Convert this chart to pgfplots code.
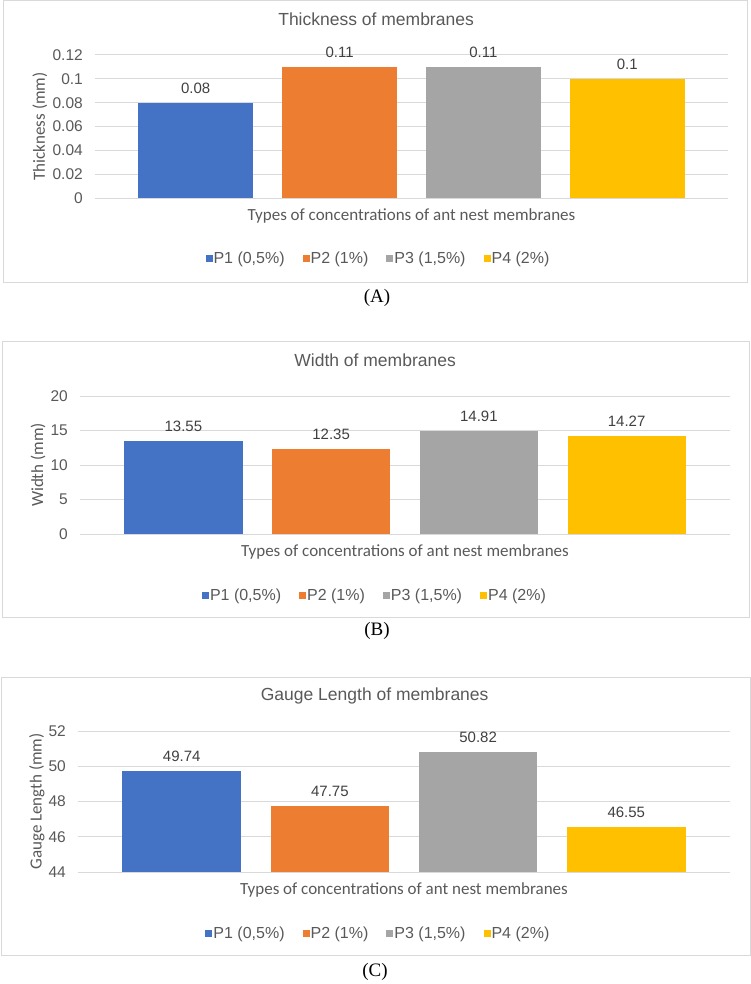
\documentclass[border=0pt]{standalone}
\usepackage{fontspec}
\setmainfont{Liberation Sans}
\newfontfamily\calfont{Carlito}
\newfontfamily\capfont{Liberation Serif}
\usepackage{pgfplots}
\pgfplotsset{compat=1.18}

\definecolor{pone}{HTML}{4472C4}
\definecolor{ptwo}{HTML}{ED7D31}
\definecolor{pthree}{HTML}{A5A5A5}
\definecolor{pfour}{HTML}{FFC000}
\definecolor{gridc}{HTML}{D9D9D9}
\definecolor{txt}{HTML}{595959}
\definecolor{lbl}{HTML}{404040}

\pgfplotsset{
	memb/.style={
		ybar, bar width=0.8, bar shift=0pt,
		scale only axis, enlargelimits=false,
		xmin=-0.7, xmax=3.7, xtick=\empty,
		major tick length=0pt,
		axis line style={draw=none},
		ymajorgrids, grid style={color=gridc, line width=1pt},
		/pgf/number format/.cd, fixed, precision=2, assume math mode=true,
		/pgfplots/.cd,
		tick label style={font=\fontsize{15.5}{18}\selectfont, text=txt},
		yticklabel style={inner sep=0pt, xshift=-12pt},
		nodes near coords,
		every node near coord/.append style={font=\fontsize{15}{18}\selectfont,
			text=lbl, anchor=south, inner sep=0pt, yshift=9pt},
		title style={font=\fontsize{17.5}{20}\selectfont, text=txt, anchor=center},
		xlabel={Types of concentrations of ant nest membranes},
		xlabel style={font=\calfont\fontsize{17}{20}\selectfont, text=txt, anchor=center},
		ylabel style={font=\calfont\fontsize{17}{20}\selectfont, text=txt, anchor=center},
		legend style={draw=none, fill=none, legend columns=-1, anchor=center,
			font=\fontsize{16}{18}\selectfont, text=txt,
			nodes={inner sep=1pt},
			/tikz/every even column/.append style={column sep=17pt}},
		legend image code/.code={\fill[#1] (0pt,-3.5pt) rectangle (7pt,3.5pt);},
	}
}

\begin{document}
\begin{tikzpicture}
	\path[use as bounding box] (0pt,0pt) rectangle (751pt,-984pt);

	% panel boxes
	\draw[gridc, line width=1pt] (3pt,-1pt) rectangle (747pt,-282pt);
	\draw[gridc, line width=1pt] (2pt,-341pt) rectangle (749pt,-617pt);
	\draw[gridc, line width=1pt] (1pt,-677pt) rectangle (750pt,-955pt);

	% (A) thickness
	\begin{axis}[memb, at={(95pt,-198pt)}, anchor=south west,
		width=633pt, height=143pt,
		ymin=0, ymax=0.12, ytick={0,0.02,0.04,0.06,0.08,0.1,0.12},
		title={Thickness of membranes},
		title style={at={(axis description cs:0.444,1.21)}},
		ylabel={Thickness (mm)},
		ylabel style={at={(axis description cs:-0.087,0.5)}},
		xlabel style={at={(axis description cs:0.5,-0.126)}},
		legend style={at={(axis description cs:0.447,-0.42)}}]
		\addplot[fill=pone, draw=none] coordinates {(0,0.08)};
		\addplot[fill=ptwo, draw=none] coordinates {(1,0.11)};
		\addplot[fill=pthree, draw=none] coordinates {(2,0.11)};
		\addplot[fill=pfour, draw=none] coordinates {(3,0.10)};
		\addlegendentry{P1 (0,5\%)}
		\addlegendentry{P2 (1\%)}
		\addlegendentry{P3 (1,5\%)}
		\addlegendentry{P4 (2\%)}
	\end{axis}

	% (B) width
	\begin{axis}[memb, at={(80pt,-534pt)}, anchor=south west,
		width=650pt, height=138pt,
		ymin=0, ymax=20, ytick={0,5,10,15,20},
		title={Width of membranes},
		title style={at={(axis description cs:0.454,1.217)}},
		ylabel={Width (mm)},
		ylabel style={at={(axis description cs:-0.0646,0.5)}},
		xlabel style={at={(axis description cs:0.5,-0.13)}},
		legend style={at={(axis description cs:0.453,-0.442)}}]
		\addplot[fill=pone, draw=none] coordinates {(0,13.55)};
		\addplot[fill=ptwo, draw=none] coordinates {(1,12.35)};
		\addplot[fill=pthree, draw=none] coordinates {(2,14.91)};
		\addplot[fill=pfour, draw=none] coordinates {(3,14.27)};
		\addlegendentry{P1 (0,5\%)}
		\addlegendentry{P2 (1\%)}
		\addlegendentry{P3 (1,5\%)}
		\addlegendentry{P4 (2\%)}
	\end{axis}

	% (C) gauge length
	\begin{axis}[memb, at={(78pt,-872pt)}, anchor=south west,
		width=652pt, height=141pt,
		ymin=44, ymax=52, ytick={44,46,48,50,52},
		title={Gauge Length of membranes},
		title style={at={(axis description cs:0.455,1.206)}},
		ylabel={Gauge Length (mm)},
		ylabel style={at={(axis description cs:-0.063,0.5)}},
		xlabel style={at={(axis description cs:0.5,-0.128)}},
		legend style={at={(axis description cs:0.46,-0.433)}}]
		\addplot[fill=pone, draw=none] coordinates {(0,49.74)};
		\addplot[fill=ptwo, draw=none] coordinates {(1,47.75)};
		\addplot[fill=pthree, draw=none] coordinates {(2,50.82)};
		\addplot[fill=pfour, draw=none] coordinates {(3,46.55)};
		\addlegendentry{P1 (0,5\%)}
		\addlegendentry{P2 (1\%)}
		\addlegendentry{P3 (1,5\%)}
		\addlegendentry{P4 (2\%)}
	\end{axis}

	% captions
	\node[font=\capfont\fontsize{19}{22}\selectfont] at (377pt,-298pt) {(A)};
	\node[font=\capfont\fontsize{19}{22}\selectfont] at (377pt,-631pt) {(B)};
	\node[font=\capfont\fontsize{19}{22}\selectfont] at (375pt,-972pt) {(C)};
\end{tikzpicture}
\end{document}
